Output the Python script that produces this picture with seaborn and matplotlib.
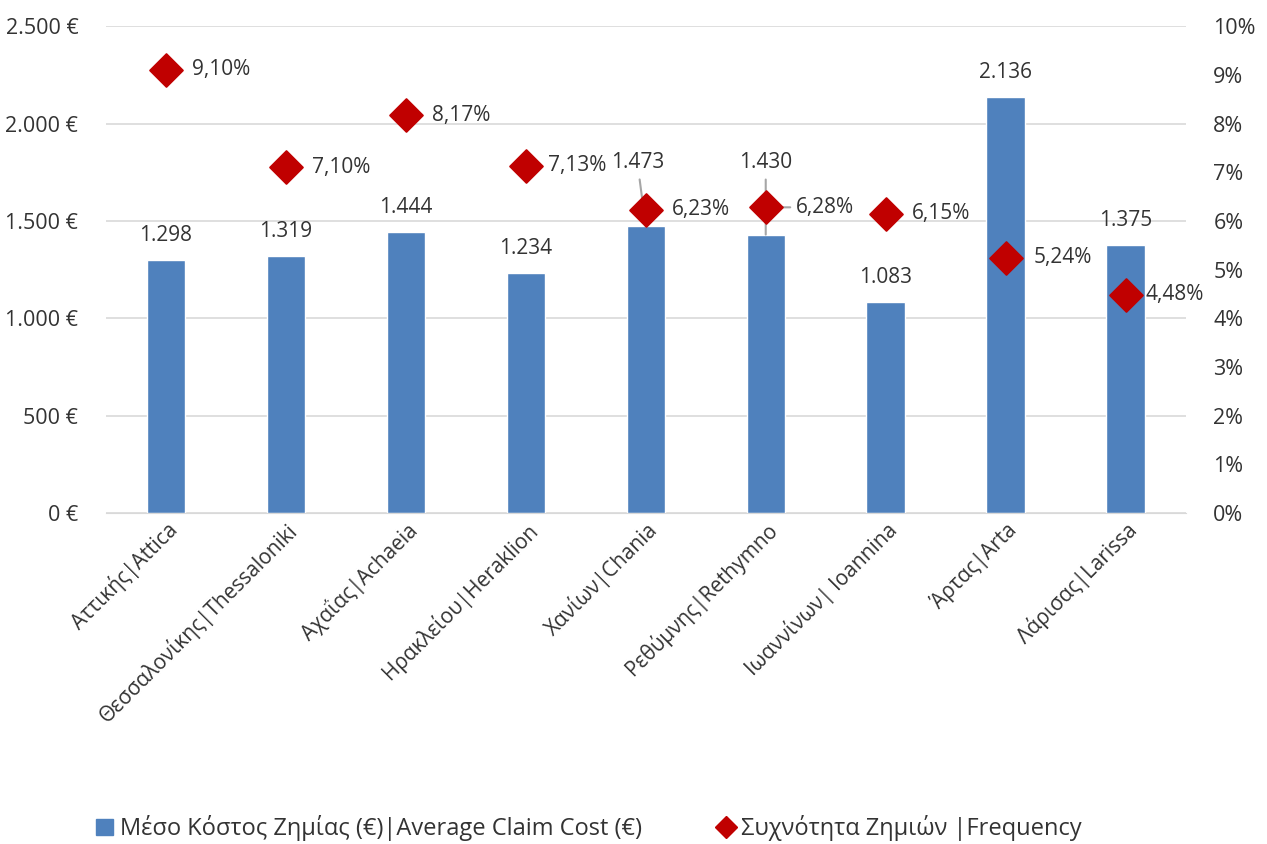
import matplotlib
matplotlib.use("Agg")
import matplotlib.pyplot as plt
import seaborn as sns
import pandas as pd
from matplotlib.lines import Line2D
from matplotlib.patches import Patch

# data
regions = ["Αττικής|Attica", "Θεσσαλονίκης|Thessaloniki", "Αχαΐας|Achaeia",
           "Ηρακλείου|Heraklion", "Χανίων|Chania", "Ρεθύμνης|Rethymno",
           "Ιωαννίνων| Ioannina", "Άρτας|Arta", "Λάρισας|Larissa"]
avg_cost = [1298, 1319, 1444, 1234, 1473, 1430, 1083, 2136, 1375]
frequency = [9.10, 7.10, 8.17, 7.13, 6.23, 6.28, 6.15, 5.24, 4.48]

cost_label = "Μέσο Κόστος Ζημίας (€)|Average Claim Cost (€)"
freq_label = "Συχνότητα Ζημιών |Frequency"

bar_color = "#4F81BD"
mark_color = "#C00000"
txt_color = "#333333"
leader = "#A6A6A6"

# label nudges (points) where excel moved crowded labels
cost_offsets = {4: (-6, 28), 5: (0, 34)}
freq_offsets = {3: 16, 5: 22, 7: 20, 8: 14}

sns.set_style("white")
plt.rcParams["font.family"] = ["Open Sans", "DejaVu Sans"]

df = pd.DataFrame({"region": regions, "cost": avg_cost, "freq": frequency})

fig = plt.figure(figsize=(12.67, 8.44), dpi=100)
ax = fig.add_axes([0.0837, 0.392, 0.852, 0.577])

sns.barplot(data=df, x="region", y="cost", color=bar_color, width=0.32,
            saturation=1, ax=ax, zorder=2)
ax.set_ylim(0, 2500)
ax.set_xlim(-0.5, len(regions) - 0.5)
ax.set_yticks(range(0, 2501, 500))
ax.set_yticklabels([f"{v:,}".replace(",", ".") + " €" for v in range(0, 2501, 500)])
ax.grid(axis="y", color="#D9D9D9", linewidth=1.2, zorder=0)
ax.set_axisbelow(True)
ax.set_xlabel("")
ax.set_ylabel("")
for s in ax.spines.values():
    s.set_visible(False)
ax.spines["bottom"].set_visible(True)
ax.spines["bottom"].set_color("#D9D9D9")
ax.tick_params(axis="y", length=0, labelsize=15.5, colors=txt_color, pad=20)
ax.tick_params(axis="x", length=0, labelsize=15, colors=txt_color, pad=4)
plt.setp(ax.get_xticklabels(), rotation=45, ha="right", rotation_mode="anchor")

for i, v in enumerate(avg_cost):
    dx, dy = cost_offsets.get(i, (0, 0))
    arrow = dict(arrowstyle="-", color=leader, lw=1.5, shrinkA=2, shrinkB=0) if i in cost_offsets else None
    ax.annotate(f"{v:,}".replace(",", "."), (i, v), xytext=(dx, 10 + dy),
                textcoords="offset points", ha="center", va="bottom",
                fontsize=15, color=txt_color, arrowprops=arrow)

ax2 = ax.twinx()
sns.scatterplot(data=df, x="region", y="freq", marker="D", s=280, color=mark_color,
                edgecolor=mark_color, ax=ax2, zorder=5, legend=False)
ax2.set_ylim(0, 10)
ax2.set_yticks(range(0, 11))
ax2.set_yticklabels([f"{v}%" for v in range(0, 11)])
ax2.set_ylabel("")
for s in ax2.spines.values():
    s.set_visible(False)
ax2.tick_params(axis="y", length=0, labelsize=15.5, colors=txt_color, pad=20)

for i, v in enumerate(frequency):
    dx = freq_offsets.get(i, 19)
    arrow = dict(arrowstyle="-", color=leader, lw=1.5, shrinkA=2, shrinkB=0) if i in (3, 5) else None
    ax2.annotate(f"{v:.2f}%".replace(".", ","), (i, v), xytext=(dx, 0),
                 textcoords="offset points", ha="left", va="center",
                 fontsize=15, color=txt_color, arrowprops=arrow)

handles = [Patch(color=bar_color, label=cost_label),
           Line2D([], [], marker="D", linestyle="", color=mark_color,
                  markersize=11, label=freq_label)]
fig.legend(handles=handles, loc="lower center", bbox_to_anchor=(0.465, -0.022),
           ncol=2, frameon=False, fontsize=17, handlelength=0.7,
           handletextpad=0.3, columnspacing=3.2, labelcolor=txt_color)

fig.savefig("out.png", dpi=100)
